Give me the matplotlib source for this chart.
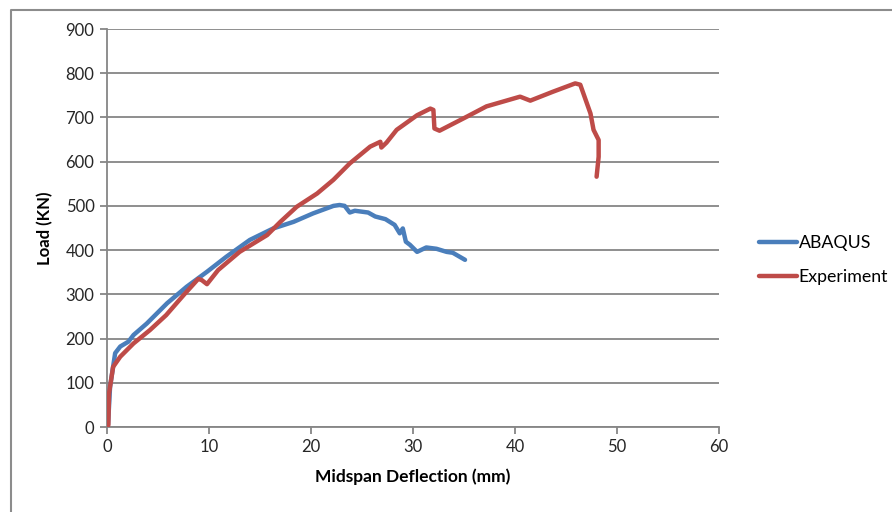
import matplotlib.pyplot as plt
from matplotlib.lines import Line2D

# datos (deflexion en mm, carga en kN)
abaqus_x = [0, 0.1, 0.3, 0.8, 1.3, 2.1, 2.6, 3.9, 5.9, 7.8, 9.8, 11.7, 14.0,
            16.3, 18.3, 20.2, 22.2, 22.8, 23.3, 23.8, 24.3, 25.6, 26.3, 27.3,
            28.2, 28.7, 29.0, 29.3, 29.7, 30.4, 31.3, 32.3, 33.3, 33.9, 35.1]
abaqus_y = [0, 5, 91, 167, 182, 193, 208, 234, 280, 317, 351, 385, 423,
            449, 464, 483, 500, 502, 500, 485, 489, 485, 476, 470,
            457, 438, 449, 419, 412, 396, 406, 403, 396, 394, 378]

exp_x = [0, 0.13, 0.2, 0.6, 1.3, 2.6, 4.2, 5.8, 7.5, 8.95, 9.3, 9.8, 10.9,
         13.0, 15.7, 17.0, 18.6, 20.6, 22.2, 23.8, 25.8, 26.8, 26.9, 27.4,
         28.4, 30.4, 31.7, 32.0, 32.1, 32.6, 35.3, 37.2, 40.5, 41.5, 43.7,
         45.9, 46.4, 47.4, 47.7, 48.2, 48.2, 48.0]
exp_y = [0, 4, 76, 136, 159, 189, 219, 253, 298, 335, 332, 323, 355,
         396, 434, 464, 498, 528, 559, 596, 634, 645, 632, 643,
         672, 705, 720, 717, 675, 670, 702, 725, 747, 738, 758,
         777, 774, 709, 672, 649, 611, 566]

x_ticks = [0, 10, 20, 30, 40, 50, 60]
y_ticks = [0, 100, 200, 300, 400, 500, 600, 700, 800, 900]

plt.rcParams['font.family'] = ['Lato', 'DejaVu Sans']

fig = plt.figure(figsize=(8.92, 5.12), dpi=100)
ax = fig.add_axes([107 / 892, 85 / 512, 612 / 892, 398 / 512])

# marco exterior del grafico (izquierda y arriba)
borde_x = 10.5 / 892
borde_y = 1 - 9.5 / 512
fig.lines.append(Line2D([borde_x, borde_x, 1.0], [0.0, borde_y, borde_y],
                        transform=fig.transFigure, color='#8c8c8c',
                        linewidth=1.5))

gris = '#868686'
ax.plot(abaqus_x, abaqus_y, color='#4a7ebb', linewidth=3.2, label='ABAQUS',
        solid_capstyle='round', solid_joinstyle='round', zorder=3)
ax.plot(exp_x, exp_y, color='#be4b48', linewidth=3.2, label='Experiment',
        solid_capstyle='round', solid_joinstyle='round', zorder=3)

ax.set_xlim(0, 60)
ax.set_ylim(0, 900)
ax.set_xticks(x_ticks)
ax.set_yticks(y_ticks)
ax.yaxis.grid(True, color=gris, linewidth=1.3)
ax.set_axisbelow(True)

for lado in ['top', 'right']:
    ax.spines[lado].set_visible(False)
for lado in ['left', 'bottom']:
    ax.spines[lado].set_color(gris)
    ax.spines[lado].set_linewidth(1.3)
ax.tick_params(colors=gris, length=5, width=1.3, labelcolor='#262626',
               labelsize=12, pad=4)

ax.set_xlabel('Midspan Deflection (mm)', fontsize=12.5, fontweight='bold',
              labelpad=9)
ax.set_ylabel('Load (KN)', fontsize=12, fontweight='bold', labelpad=9)

ax.legend(loc='center left', bbox_to_anchor=(1.04, 0.42), frameon=False,
          fontsize=12.8, handlelength=2.1, handletextpad=0.1,
          labelspacing=1.0)

plt.savefig('out.png', dpi=100)
